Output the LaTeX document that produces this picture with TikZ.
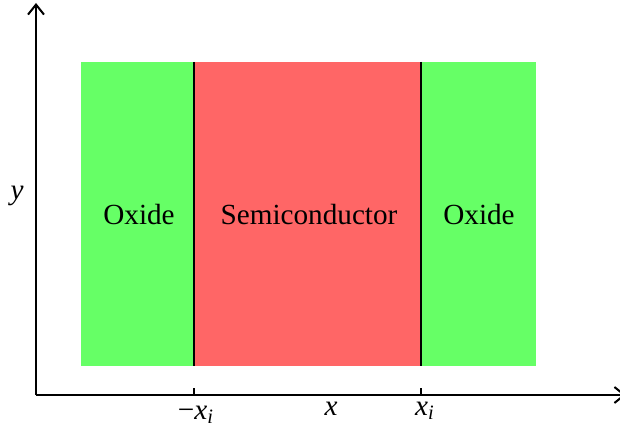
\documentclass[tikz,border=0pt]{standalone}
\usepackage{fontspec}
\setmainfont{Liberation Serif}
\usetikzlibrary{arrows.meta}
\definecolor{oxgreen}{HTML}{66FF66}
\definecolor{scred}{HTML}{FF6666}
\begin{document}
\begin{tikzpicture}[x=0.5pt,y=-0.5pt,
  lbl/.style={font=\fontsize{14.6}{17}\selectfont},
  axis/.style={line width=1pt,-{Straight Barb[length=5pt,width=8pt,line width=1pt]}},
  divider/.style={line width=1pt},
  tick/.style={line width=1pt}]
\useasboundingbox (0,0) rectangle (620,432);
% regions
\fill[oxgreen] (81,62) rectangle (194,366);
\fill[scred] (194,62) rectangle (421,366);
\fill[oxgreen] (421,62) rectangle (536,366);
\draw[divider] (194,62) -- (194,366);
\draw[divider] (421,62) -- (421,366);
% labels
\node[lbl] (ox1) at (139,215) {Oxide};
\node[lbl] (sc) at (309,215) {Semiconductor};
\node[lbl] (ox2) at (479,215) {Oxide};
% axes
\coordinate (o) at (36,395);
\coordinate (xe) at (626,395);
\coordinate (ye) at (36,3);
\draw[axis] (o) -- (xe);
\draw[axis] (o) -- (ye);
\coordinate (t1) at (194,395);
\coordinate (t1u) at (194,388);
\coordinate (t2) at (421,395);
\coordinate (t2u) at (421,388);
\draw[tick] (t1) -- (t1u);
\draw[tick] (t2) -- (t2u);
\node[lbl] (lm) at (196,415) {−\textit{x}\textsubscript{\textit{i}}};
\node[lbl] (lx) at (331,409) {\textit{x}};
\node[lbl] (lp) at (425,411) {\textit{x}\textsubscript{\textit{i}}};
\node[lbl] (ly) at (17,196) {\textit{y}};
\end{tikzpicture}
\end{document}
